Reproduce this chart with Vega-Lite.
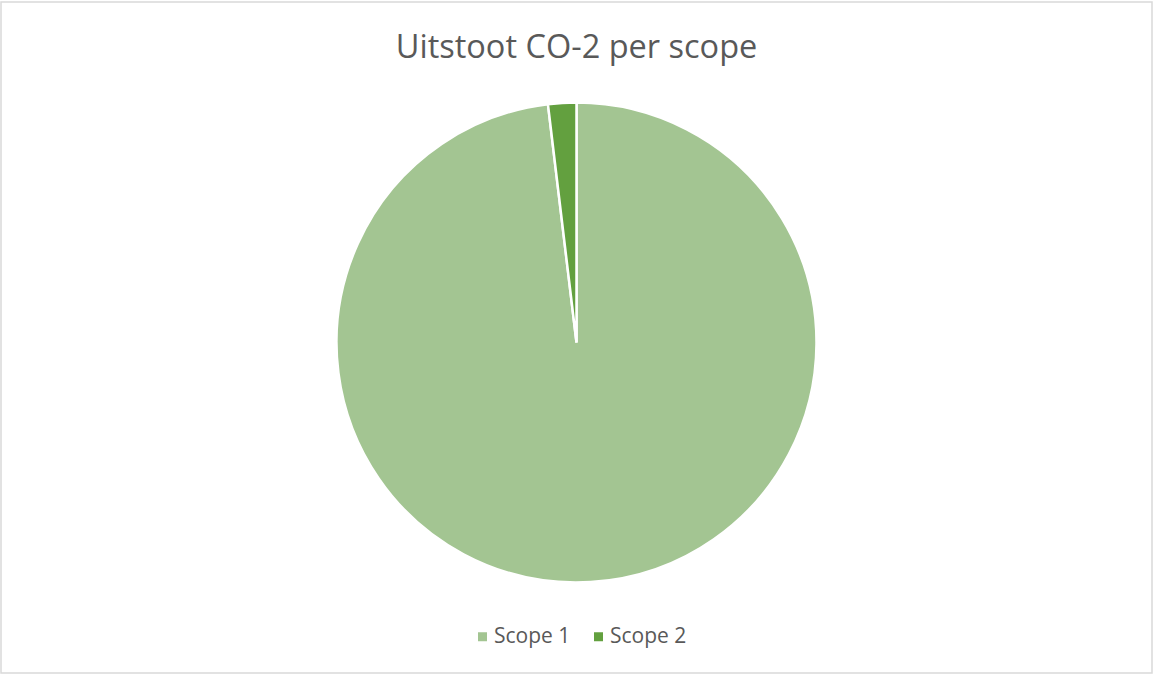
{
  "$schema": "https://vega.github.io/schema/vega-lite/v6.json",
  "width": 1151,
  "height": 671,
  "padding": {"left": 1, "top": 2, "right": 2, "bottom": 2},
  "background": "white",
  "view": {"stroke": "#d9d9d9", "strokeWidth": 1.5, "fill": "white"},
  "title": {
    "text": "Uitstoot CO-2 per scope",
    "font": "Open Sans",
    "fontSize": 32.5,
    "fontWeight": "normal",
    "color": "#595959",
    "anchor": "middle",
    "offset": -62
  },
  "data": {
    "values": [
      {"scope": "Scope 1", "value": 98.1},
      {"scope": "Scope 2", "value": 1.9}
    ]
  },
  "mark": {"type": "arc", "outerRadius": 240, "stroke": "white", "strokeWidth": 2.5, "yOffset": 5},
  "encoding": {
    "theta": {"field": "value", "type": "quantitative", "stack": true},
    "order": {"field": "scope", "type": "nominal", "sort": "ascending"},
    "color": {
      "field": "scope",
      "type": "nominal",
      "scale": {"domain": ["Scope 1", "Scope 2"], "range": ["#a3c592", "#63a03f"]},
      "legend": {
        "title": null,
        "orient": "none",
        "direction": "horizontal",
        "legendX": 471,
        "legendY": 624,
        "symbolType": "square",
        "symbolSize": 81,
        "symbolStrokeWidth": 0,
        "labelFont": "Open Sans",
        "labelFontSize": 21,
        "labelColor": "#595959",
        "labelOffset": 1,
        "columnPadding": 17
      }
    }
  }
}
